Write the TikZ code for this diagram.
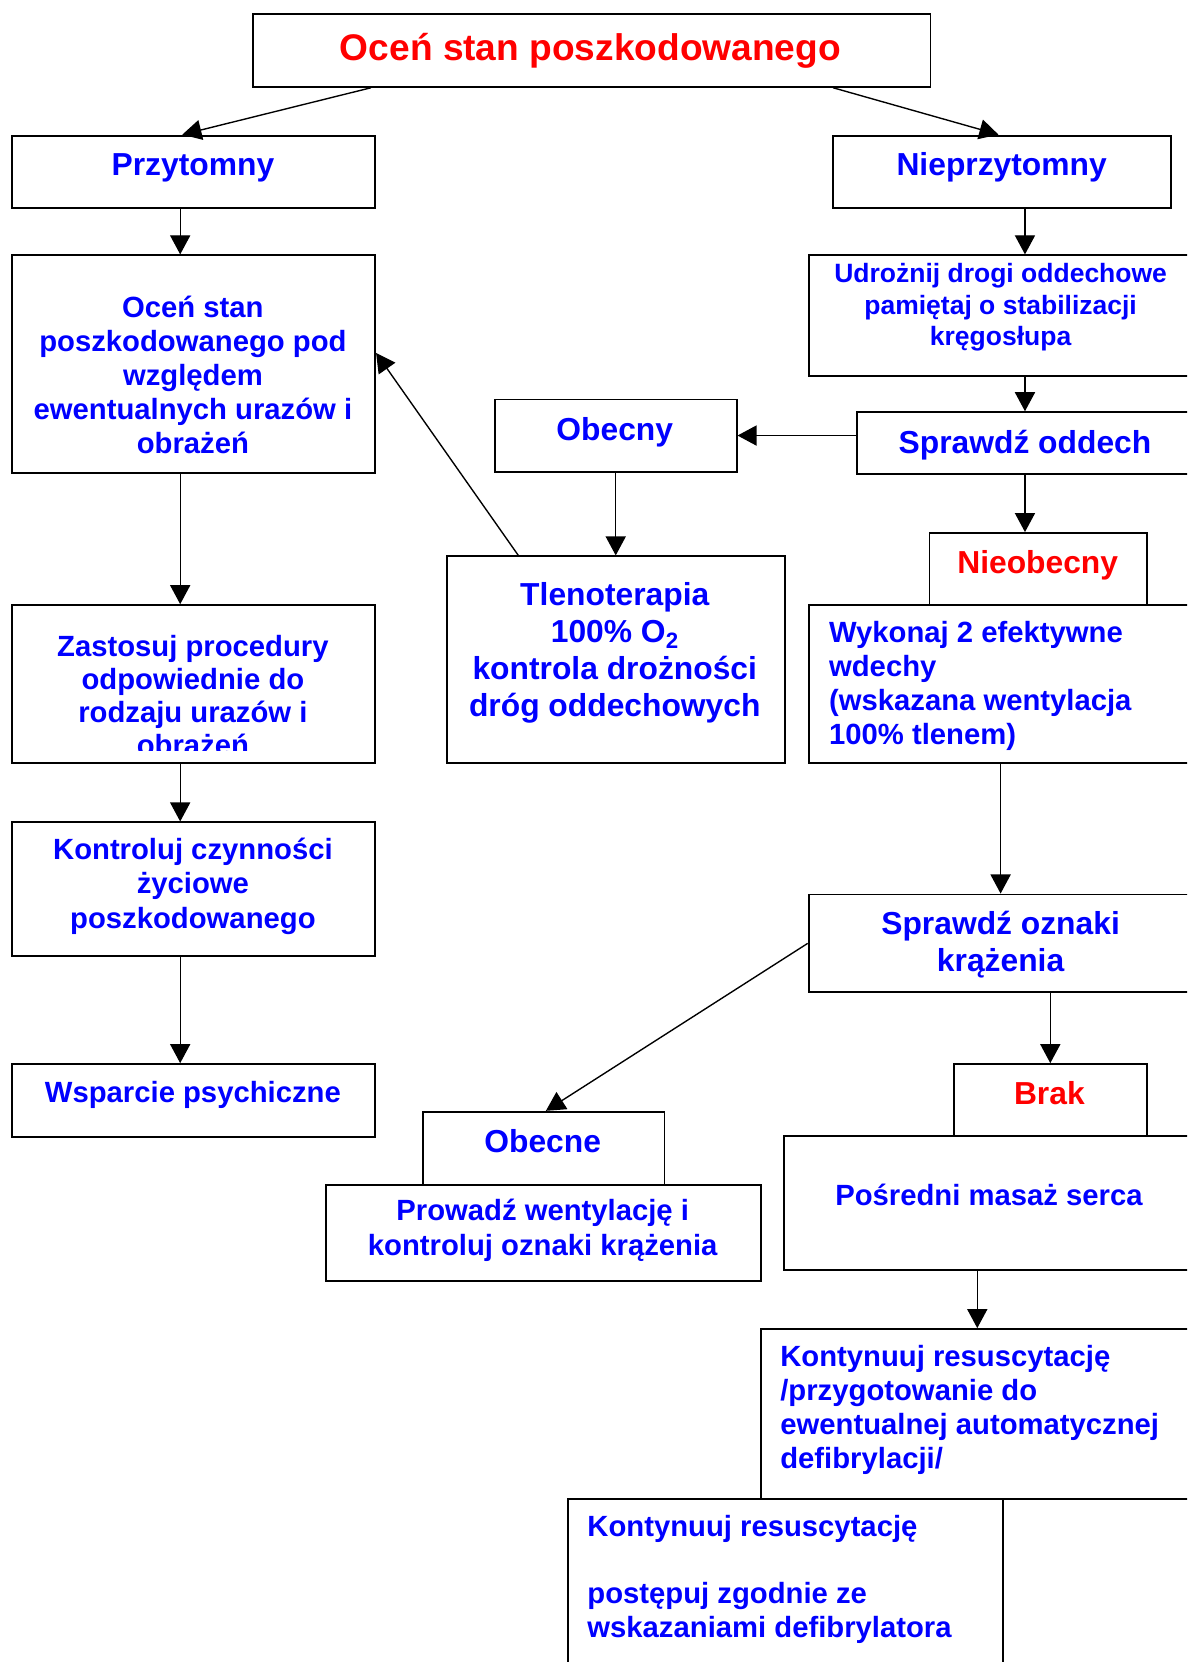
\documentclass[tikz,border=0pt]{standalone}
\usepackage{fontspec}
\setmainfont{Liberation Sans}
\usetikzlibrary{arrows.meta}
\definecolor{txtblue}{RGB}{0,0,255}
\definecolor{txtred}{RGB}{255,0,0}
\tikzset{
  box/.style={draw, line width=1.8pt, anchor=north west, inner sep=0pt},
  lbl/.style={text=txtblue, font=\bfseries\fontsize{27.6}{32}\selectfont, align=center, inner sep=0pt},
  lblbig/.style={lbl, font=\bfseries\fontsize{30}{35}\selectfont},
  alarm/.style={lblbig, text=txtred},
  arr/.style={line width=1.3pt, -{Triangle[length=18pt,width=19pt]}},
}
\begin{document}
\begin{tikzpicture}[x=1pt,y=-1pt]
        \useasboundingbox (0,0) rectangle (1120,1568);
        \clip (0,0) rectangle (1120,1568);
        % boxes
        \node[box, minimum width=639, minimum height=69] (title) at (238,12) {};
        \node[box, minimum width=343, minimum height=68] (przyt) at (10,127) {};
        \node[box, minimum width=319, minimum height=68] (nieprz) at (785,127) {};
        \node[box, minimum width=343, minimum height=205] (ocen) at (10,240) {};
        \node[box, minimum width=380, minimum height=114] (udrozn) at (762,240) {};
        \node[box, minimum width=334, minimum height=58] (sprodd) at (808,388) {};
        \node[box, minimum width=228, minimum height=68] (obecny) at (466,376) {};
        \node[box, minimum width=319, minimum height=195] (tleno) at (421,524) {};
        \node[box, minimum width=205, minimum height=68] (nieob) at (876,502) {};
        \node[box, minimum width=380, minimum height=149] (wykonaj) at (762,570) {};
        \node[box, minimum width=343, minimum height=149] (zastos) at (10,570) {};
        \node[box, minimum width=343, minimum height=126] (kontrol) at (10,775) {};
        \node[box, minimum width=343, minimum height=69] (wsparc) at (10,1003) {};
        \node[box, minimum width=380, minimum height=92] (sproz) at (762,843) {};
        \node[box, minimum width=228, minimum height=69] (obecne) at (398,1048) {};
        \node[box, minimum width=410, minimum height=91] (prowadz) at (307,1117) {};
        \node[box, minimum width=182, minimum height=68] (brak) at (899,1003) {};
        \node[box, minimum width=403, minimum height=126] (posred) at (739,1071) {};
        \node[box, minimum width=425, minimum height=160] (kont1) at (717,1253) {};
        \node[box, minimum width=410, minimum height=180] (kont2) at (535,1413) {};

        % texts
        \node[alarm, font=\bfseries\fontsize{35}{40}\selectfont] (title-t) at (557,48) {Oceń stan poszkodowanego};
        \node[lblbig] (przyt-t) at (182,158) {Przytomny};
        \node[lblbig] (nieprz-t) at (945,158) {Nieprzytomny};
        \node[lbl] (ocen-t) at (182,354) {Oceń stan\\poszkodowanego pod\\względem\\ewentualnych urazów i\\obrażeń};
        \node[lbl, font=\bfseries\fontsize{25}{30}\selectfont] (udrozn-t) at (944,290) {Udrożnij drogi oddechowe\\pamiętaj o stabilizacji\\kręgosłupa};
        \node[lblbig] (sprodd-t) at (967,420) {Sprawdź oddech};
        \node[lblbig] (obecny-t) at (580,408) {Obecny};
        \node[lblbig] (tleno-t) at (580,616) {Tlenoterapia\\100\% O\textsubscript{2}\\kontrola drożności\\dróg oddechowych};
        \node[alarm] (nieob-t) at (979,533) {Nieobecny};
        \node[lbl, align=left, anchor=west] (wykonaj-t) at (782,647) {Wykonaj 2 efektywne\\wdechy\\(wskazana wentylacja\\100\% tlenem)};
        \begin{scope}
          \clip (10,570) rectangle (353,708);
          \node[lbl, font=\bfseries\fontsize{27.6}{31}\selectfont] (zastos-t) at (182,656) {Zastosuj procedury\\odpowiednie do\\rodzaju urazów i\\obrażeń};
        \end{scope}
        \node[lbl, font=\bfseries\fontsize{27.6}{32.5}\selectfont] (kontrol-t) at (182,836) {Kontroluj czynności\\życiowe\\poszkodowanego};
        \node[lbl] (wsparc-t) at (182,1033) {Wsparcie psychiczne};
        \node[lblbig] (sproz-t) at (944,891) {Sprawdź oznaki\\krążenia};
        \node[lblbig] (obecne-t) at (512,1077) {Obecne};
        \node[lbl, font=\bfseries\fontsize{27.6}{33}\selectfont] (prowadz-t) at (512,1161) {Prowadź wentylację i\\kontroluj oznaki krążenia};
        \node[alarm] (brak-t) at (990,1031) {Brak};
        \node[lbl] (posred-t) at (933,1127) {Pośredni masaż serca};
        \node[lbl, align=left, anchor=west] (kont1-t) at (736,1330) {Kontynuuj resuscytację\\/przygotowanie do\\ewentualnej automatycznej\\defibrylacji/};
        \node[lbl, align=left, anchor=west] (kont2-t) at (554,1490) {Kontynuuj resuscytację\\[32pt]postępuj zgodnie ze\\wskazaniami defibrylatora};

        % connectors
        \coordinate (lcol) at (170,0);
        \coordinate (rcol) at (967,0);
        \coordinate (mcol) at (944,0);
        \coordinate (bcol) at (922,0);
        \draw[arr] ([xshift=112]title.south west) -- ([xshift=162]przyt.north west);
        \draw[arr] ([xshift=548]title.south west) -- ([xshift=157]nieprz.north west);
        \draw[arr] (przyt.south -| lcol) -- (ocen.north -| lcol);
        \draw[arr] (ocen.south -| lcol) -- (zastos.north -| lcol);
        \draw[arr] (zastos.south -| lcol) -- (kontrol.north -| lcol);
        \draw[arr] (kontrol.south -| lcol) -- (wsparc.north -| lcol);
        \draw[arr] (nieprz.south -| rcol) -- (udrozn.north -| rcol);
        \draw[arr] (udrozn.south -| rcol) -- (sprodd.north -| rcol);
        \draw[arr] (sprodd.south -| rcol) -- (nieob.north -| rcol);
        \draw[arr] (sprodd.west |- obecny.east) -- (obecny.east);
        \draw[arr] (obecny.south) -- (obecny.south |- tleno.north);
        \draw[arr] ([xshift=68]tleno.north west) -- ([yshift=-93]ocen.north east);
        \draw[arr] (wykonaj.south -| mcol) -- (sproz.north -| mcol);
        \draw[arr] ([yshift=-47]sproz.north west) -- ([xshift=117]obecne.north west);
        \draw[arr] (sproz.south -| brak.north) -- (brak.north);
        \draw[arr] (posred.south -| bcol) -- (kont1.north -| bcol);
    \end{tikzpicture}
\end{document}
